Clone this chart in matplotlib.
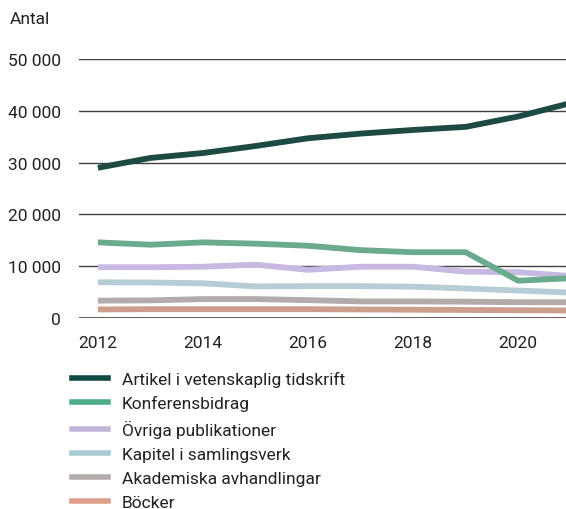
import numpy as np
import matplotlib.pyplot as plt
from matplotlib.lines import Line2D
from matplotlib.ticker import FuncFormatter

plt.rcParams['font.family'] = ['Roboto', 'DejaVu Sans']

years = [2012, 2013, 2014, 2015, 2016, 2017, 2018, 2019, 2020, 2021]

artikel = [29000, 30900, 31850, 33200, 34700, 35600, 36300, 36900, 38900, 41500]
konferens = [14600, 14150, 14600, 14350, 13950, 13100, 12700, 12700, 7200, 7700]
ovriga = [9800, 9800, 9900, 10300, 9300, 9900, 9900, 8950, 8850, 8100]
kapitel = [6900, 6850, 6700, 6100, 6150, 6150, 6050, 5700, 5300, 4900]
akademiska = [3350, 3400, 3650, 3650, 3450, 3200, 3200, 3150, 3050, 3050]
bocker = [1650, 1700, 1700, 1700, 1700, 1650, 1600, 1550, 1500, 1450]

names = ["Artikel i vetenskaplig tidskrift", "Konferensbidrag",
         "Övriga publikationer", "Kapitel i samlingsverk",
         "Akademiska avhandlingar", "Böcker"]
series = [artikel, konferens, ovriga, kapitel, akademiska, bocker]
colors = ["#1d4a43", "#6aab8d", "#c8b9e2", "#b6cdd7", "#b1abaa", "#cd9e8b"]
legend_colors = ["#0e4a40", "#4fae8a", "#c0b5d9", "#abcbd5", "#b3aeab", "#dca08a"]

fig = plt.figure(figsize=(5.66, 5.10), dpi=100)
ax = fig.add_axes([79 / 566, 1 - 319 / 510, 1 - 79 / 566, (319 - 60) / 510])

for v in range(10000, 50001, 10000):
    ax.axhline(v, color="#404040", lw=1.0, zorder=1)

# draw lowest series first so the dark one sits on top
for vals, c in reversed(list(zip(series, colors))):
    ax.plot(years, vals, color=c, lw=4.2, solid_capstyle="butt", zorder=2)

ax.axhline(0, color="#2e2e2e", lw=1.8, zorder=3)

ax.set_xlim(2011.64, 2020.91)
ax.set_ylim(0, 50000)
ax.set_yticks(range(0, 50001, 10000))
ax.yaxis.set_major_formatter(FuncFormatter(lambda v, p: f"{int(v):,}".replace(",", " ")))
ax.set_xticks([2012, 2014, 2016, 2018, 2020])
ax.tick_params(length=0, labelsize=12.5, colors="#222222")
ax.tick_params(axis="y", pad=13)
ax.tick_params(axis="x", pad=12)
for s in ax.spines.values():
    s.set_visible(False)

fig.text(10 / 566, 1 - 20 / 510, "Antal", fontsize=12.5, color="#222222", va="center")

handles = [Line2D([0], [0], color=c, lw=4) for c in legend_colors]
fig.legend(handles, names, loc="upper left", bbox_to_anchor=(56 / 566, 1 - 356 / 510),
           frameon=False, fontsize=12.5, handlelength=2.1, handletextpad=0.8,
           labelspacing=0.5, labelcolor="#222222")

fig.savefig("out.png", dpi=100)
